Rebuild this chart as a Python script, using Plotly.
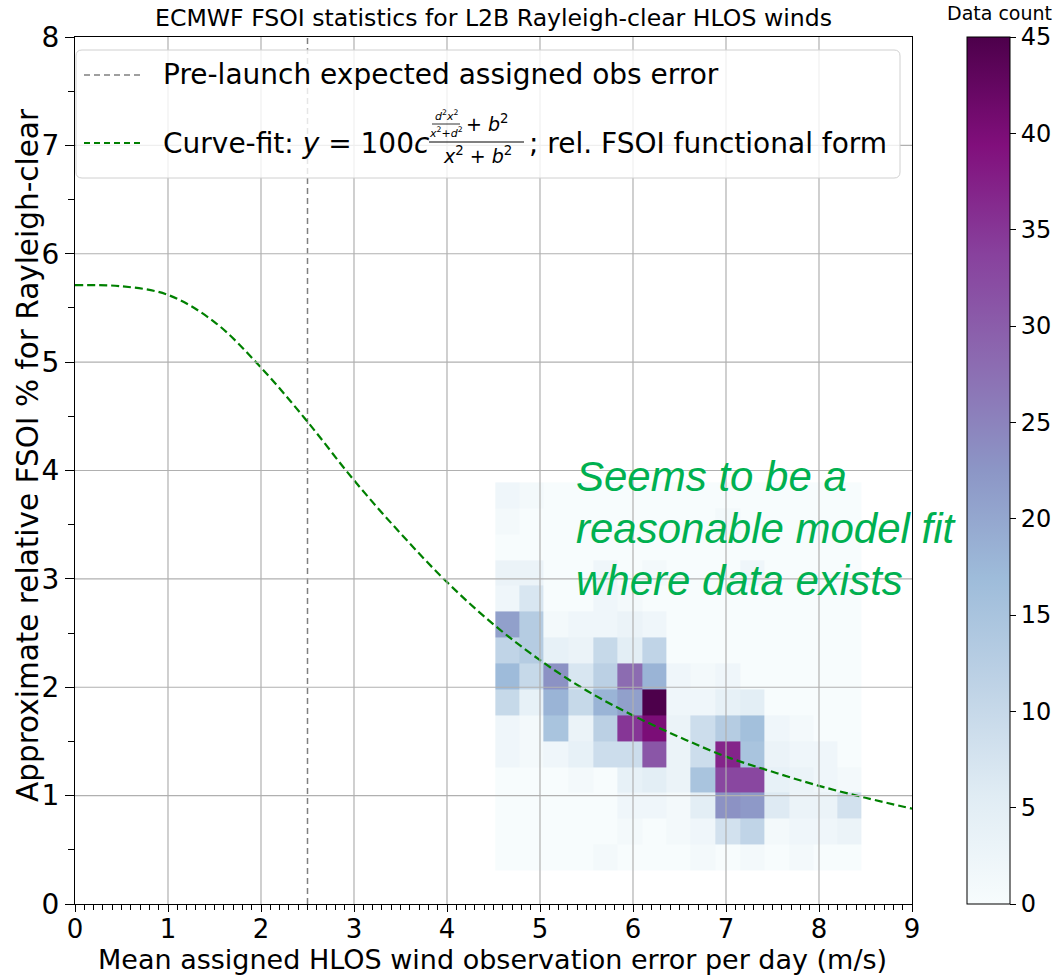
import plotly.graph_objects as go

# ---------------- data ----------------
x_edges = [4.52, 4.78, 5.04, 5.31, 5.57, 5.83, 6.10, 6.36, 6.62, 6.89, 7.15, 7.41, 7.68, 7.94, 8.20, 8.46]
y_edges = [0.31, 0.55, 0.79, 1.03, 1.26, 1.50, 1.74, 1.98, 2.22, 2.46, 2.70, 2.94, 3.17, 3.41, 3.65, 3.89]
# rows from bottom (y=0.31) to top, columns from left (x=4.52) to right
counts = [
    [0, 0, 0, 0, 1, 0, 0, 0, 1, 0, 1, 0, 1, 0, 0],
    [0, 0, 0, 0, 0, 1, 0, 1, 2, 8, 11, 1, 2, 2, 3],
    [0, 0, 0, 0, 0, 2, 2, 1, 5, 23, 22, 6, 3, 3, 8],
    [0, 0, 0, 1, 0, 4, 5, 3, 15, 33, 33, 4, 3, 2, 1],
    [2, 1, 2, 4, 9, 9, 31, 3, 9, 37, 15, 3, 2, 2, 0],
    [2, 1, 15, 3, 12, 35, 40, 3, 9, 13, 16, 2, 1, 0, 0],
    [10, 4, 18, 10, 18, 21, 45, 2, 2, 4, 5, 0, 0, 0, 0],
    [17, 10, 23, 7, 12, 28, 18, 2, 1, 2, 0, 0, 0, 0, 0],
    [11, 13, 4, 3, 10, 5, 11, 0, 0, 0, 0, 0, 0, 0, 0],
    [21, 13, 1, 2, 2, 3, 2, 0, 0, 0, 0, 0, 0, 0, 0],
    [2, 7, 0, 0, 2, 1, 0, 0, 0, 0, 0, 0, 0, 0, 0],
    [3, 3, 0, 0, 2, 0, 1, 0, 0, 0, 2, 0, 0, 0, 0],
    [0, 0, 0, 0, 0, 0, 0, 0, 0, 0, 0, 0, 0, 0, 0],
    [1, 0, 0, 0, 0, 0, 0, 0, 0, 1, 0, 0, 0, 0, 0],
    [2, 1, 0, 0, 0, 0, 0, 0, 0, 0, 0, 0, 0, 0, 0],
]
fit_x = [0, 0.5, 1, 1.5, 2, 2.5, 3, 3.5, 4, 4.5, 5, 5.5, 6, 6.5, 7, 7.5, 8, 8.5, 9]
fit_y = [5.71, 5.70, 5.62, 5.37, 4.95, 4.45, 3.91, 3.42, 2.97, 2.58, 2.25, 1.97,
         1.74, 1.54, 1.36, 1.22, 1.09, 0.98, 0.88]
prelaunch_error = 2.5
x_ticks = [0, 1, 2, 3, 4, 5, 6, 7, 8, 9]
y_ticks = [0, 1, 2, 3, 4, 5, 6, 7, 8]
cbar_ticks = [0, 5, 10, 15, 20, 25, 30, 35, 40, 45]

# ---------------- layout helpers ----------------
WIDTH, HEIGHT = 1058, 977
L, R, T, B = 75, 912, 37, 904
PW, PH = R - L, B - T
FONT = "DejaVu Sans"


def PX(px):
    return (px - L) / PW


def PY(py):
    return (B - py) / PH


fig = go.Figure()

fig.add_trace(go.Heatmap(
    x=x_edges, y=y_edges, z=counts,
    colorscale="BuPu", zmin=0, zmax=45,
    colorbar=dict(
        x=PX(967), xanchor="left", xpad=0, ypad=0, y=0.5, yanchor="middle",
        len=1, lenmode="fraction", thickness=43, thicknessmode="pixels",
        outlinecolor="black", outlinewidth=1,
        tickvals=cbar_ticks, ticks="outside", ticklen=6, tickcolor="black",
        tickfont=dict(family=FONT, size=24, color="black"),
    ),
    showscale=True,
))

fig.add_trace(go.Scatter(
    x=[prelaunch_error, prelaunch_error], y=[y_ticks[0], y_ticks[-1]],
    mode="lines", line=dict(color="gray", width=1.5, dash="6px,4px"),
    showlegend=False, hoverinfo="skip",
))

fig.add_trace(go.Scatter(
    x=fit_x, y=fit_y, mode="lines", line_shape="spline",
    line=dict(color="green", width=2.2, dash="8px,4px"),
    showlegend=False,
))

shapes = []
# grid lines drawn above the heatmap (as in the reference)
for v in x_ticks[1:-1]:
    shapes.append(dict(type="line", xref="x", yref="y", x0=v, x1=v, y0=y_ticks[0], y1=y_ticks[-1],
                       line=dict(color="#b0b0b0", width=1.2), layer="above"))
for v in y_ticks[1:-1]:
    shapes.append(dict(type="line", xref="x", yref="y", x0=x_ticks[0], x1=x_ticks[-1], y0=v, y1=v,
                       line=dict(color="#b0b0b0", width=1.2), layer="above"))

# legend box (rounded)
bx0, bx1, by0, by1 = PX(76), PX(900), PY(178), PY(50)
rx, ry = 6 / PW, 6 / PH
path = (f"M {bx0+rx},{by0} L {bx1-rx},{by0} Q {bx1},{by0} {bx1},{by0+ry} "
        f"L {bx1},{by1-ry} Q {bx1},{by1} {bx1-rx},{by1} L {bx0+rx},{by1} "
        f"Q {bx0},{by1} {bx0},{by1-ry} L {bx0},{by0+ry} Q {bx0},{by0} {bx0+rx},{by0} Z")
shapes.append(dict(type="path", xref="paper", yref="paper", path=path,
                   line=dict(color="#d0d0d0", width=1), fillcolor="rgba(255,255,255,0.8)", layer="above"))
shapes.append(dict(type="line", xref="paper", yref="paper", x0=PX(84), x1=PX(140), y0=PY(75), y1=PY(75),
                   line=dict(color="gray", width=1.5, dash="6px,4px"), layer="above"))
shapes.append(dict(type="line", xref="paper", yref="paper", x0=PX(84), x1=PX(140), y0=PY(143), y1=PY(143),
                   line=dict(color="green", width=2, dash="6px,4px"), layer="above"))
# fraction bars
shapes.append(dict(type="line", xref="paper", yref="paper", x0=PX(429), x1=PX(524), y0=PY(142), y1=PY(142),
                   line=dict(color="black", width=1), layer="above"))
shapes.append(dict(type="line", xref="paper", yref="paper", x0=PX(432), x1=PX(460), y0=PY(124), y1=PY(124),
                   line=dict(color="black", width=0.8), layer="above"))

annotations = []


def txt(text, px, py, size, xanchor="left", color="black", family=FONT, angle=0, yanchor="middle"):
    annotations.append(dict(text=text, xref="paper", yref="paper", x=PX(px), y=PY(py),
                            xanchor=xanchor, yanchor=yanchor, showarrow=False, textangle=angle,
                            font=dict(family=family, size=size, color=color)))


txt("Pre-launch expected assigned obs error", 161, 75, 28)
txt("Curve-fit: <i>y</i> = 100<i>c</i>", 161, 144, 28)
txt("<i>d</i><sup>2</sup><i>x</i><sup>2</sup>", 446, 115, 11, xanchor="center")
txt("<i>x</i><sup>2</sup>+<i>d</i><sup>2</sup>", 446, 132, 11, xanchor="center")
txt("+ <i>b</i><sup>2</sup>", 464, 123, 19)
txt("<i>x</i><sup>2</sup> + <i>b</i><sup>2</sup>", 477, 155, 19, xanchor="center")
txt("; rel. FSOI functional form", 527, 144, 28)

# green comment text
green_lines = ["Seems to be a", "reasonable model fit", "where data exists"]
for line, yy in zip(green_lines, [476, 528, 580]):
    txt(f"<i>{line}</i>", 574, yy, 42, color="#00b050", family="Liberation Sans")

# colorbar title and axis titles
txt("Data count", 999, 0, 19, xanchor="center", yanchor="top")
txt("Mean assigned HLOS wind observation error per day (m/s)", (L + R) / 2 - 1, 977, 27,
    xanchor="center", yanchor="bottom")
txt("Approximate relative FSOI % for Rayleigh-clear", 28, 455, 29.5, xanchor="center", angle=-90)

fig.update_layout(
    width=WIDTH, height=HEIGHT,
    margin=dict(l=L, r=WIDTH - R, t=T, b=HEIGHT - B, pad=0, autoexpand=False),
    paper_bgcolor="white", plot_bgcolor="white",
    title=dict(text="ECMWF FSOI statistics for L2B Rayleigh-clear HLOS winds",
               x=PX((L + R) / 2), xref="paper", xanchor="center",
               y=1 - 18 / HEIGHT, yref="container", yanchor="middle",
               font=dict(family=FONT, size=23.6, color="black")),
    shapes=shapes, annotations=annotations,
    showlegend=False,
    font=dict(family=FONT, color="black"),
)

fig.update_xaxes(
    range=[0, 9], tickvals=x_ticks, ticks="outside", ticklen=7, tickwidth=1, tickcolor="black",
    tickfont=dict(family=FONT, size=26, color="black"), ticklabelstandoff=-5,
    showgrid=False, zeroline=False, showline=True, linecolor="black", linewidth=1, mirror=True,
    minor=dict(dtick=0.1, tick0=0, ticks="outside", ticklen=5, tickcolor="black", showgrid=False),
)
fig.update_yaxes(
    range=[0, 8], tickvals=y_ticks, ticks="outside", ticklen=9, tickwidth=1, tickcolor="black",
    tickfont=dict(family=FONT, size=28, color="black"),
    showgrid=False, zeroline=False, showline=True, linecolor="black", linewidth=1, mirror=True,
    minor=dict(dtick=0.5, tick0=0, ticks="outside", ticklen=6, tickcolor="black", showgrid=False),
)

fig.write_html("out.html")
